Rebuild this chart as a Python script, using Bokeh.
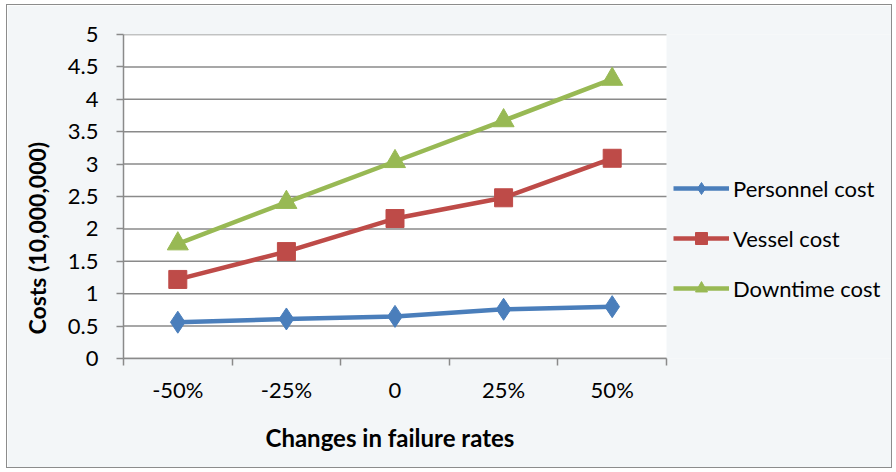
import numpy as np
from bokeh.plotting import figure
from bokeh.models import FixedTicker, Legend, LegendItem, Title, Range1d
from bokeh.embed import file_html
from bokeh.resources import INLINE

categories = ["-50%", "-25%", "0", "25%", "50%"]
personnel = [0.56, 0.61, 0.65, 0.76, 0.80]
vessel = [1.22, 1.65, 2.16, 2.48, 3.09]
downtime = [1.77, 2.41, 3.04, 3.67, 4.31]
y_ticks = [0, 0.5, 1, 1.5, 2, 2.5, 3, 3.5, 4, 4.5, 5]
y_tick_labels = ["0", "0.5", "1", "1.5", "2", "2.5", "3", "3.5", "4", "4.5", "5"]
series_names = ["Personnel cost", "Vessel cost", "Downtime cost"]

FONT = "Lato"
BG = "#f3f6f8"
GRID = "#8a8a8a"
n = len(categories)
x = list(range(1, n + 1))
x_lo, x_hi = 0.5, n + 0.5
y_lo, y_hi = y_ticks[0], y_ticks[-1]

W, H = 886, 464
LEFT, TOP, BOTTOM = 116, 29, 111
PLOT_W = 543  # pixel width of the category area
frame_w = W - LEFT
x_end = x_lo + (x_hi - x_lo) * frame_w / PLOT_W

p = figure(width=W, height=H, output_backend="svg", toolbar_location=None,
           x_range=Range1d(x_lo, x_end), y_range=Range1d(y_lo, y_hi))
p.min_border_left = LEFT
p.min_border_right = 0
p.min_border_top = TOP
p.min_border_bottom = BOTTOM
p.border_fill_color = BG
p.background_fill_color = BG
p.outline_line_color = None
p.xgrid.visible = False
p.ygrid.visible = False

# plot area and horizontal gridlines
p.quad(left=[x_lo], right=[x_hi], bottom=[y_lo], top=[y_hi],
       fill_color="white", line_color=None)
p.segment(x0=[x_lo] * len(y_ticks), x1=[x_hi] * len(y_ticks), y0=y_ticks, y1=y_ticks,
          line_color=GRID, line_width=1.5)

# y axis
p.yaxis.ticker = FixedTicker(ticks=y_ticks)
p.yaxis.major_label_overrides = {t: l for t, l in zip(y_ticks, y_tick_labels)}
p.yaxis.major_label_text_font = FONT
p.yaxis.major_label_text_font_size = "22px"
p.yaxis.major_label_text_color = "black"
p.yaxis.axis_line_color = GRID
p.yaxis.axis_line_width = 1.5
p.yaxis.major_tick_line_color = GRID
p.yaxis.major_tick_line_width = 1.5
p.yaxis.major_tick_out = 7
p.yaxis.major_tick_in = 0
p.yaxis.minor_tick_line_color = None
p.yaxis.major_label_standoff = 18

# x axis
bounds = [i + 0.5 for i in range(0, n + 1)]
p.xaxis.bounds = (x_lo, x_hi)
p.xaxis.ticker = FixedTicker(ticks=x, minor_ticks=bounds)
p.xaxis.major_label_overrides = {xi: c for xi, c in zip(x, categories)}
p.xaxis.major_label_text_font = FONT
p.xaxis.major_label_text_font_size = "22px"
p.xaxis.major_label_text_color = "black"
p.xaxis.axis_line_color = GRID
p.xaxis.axis_line_width = 1.5
p.xaxis.major_tick_line_color = None
p.xaxis.major_tick_out = 0
p.xaxis.major_tick_in = 0
p.xaxis.minor_tick_line_color = GRID
p.xaxis.minor_tick_line_width = 1.5
p.xaxis.minor_tick_out = 7
p.xaxis.minor_tick_in = 0
p.xaxis.major_label_standoff = 10

# axis titles
xtitle = Title(text="Changes in failure rates", align="left", offset=142, standoff=30,
               text_font=FONT, text_font_style="bold", text_font_size="24px",
               text_color="black")
p.add_layout(xtitle, "below")
ytitle = Title(text="Costs (10,000,000)", align="left", offset=24, standoff=27,
               text_font=FONT, text_font_style="bold", text_font_size="23px",
               text_color="black")
p.add_layout(ytitle, "left")

colors = ["#4a7ebb", "#be4b48", "#98b954"]
lw = 4.5
r1l = p.line(x, personnel, line_color=colors[0], line_width=lw)
r1m = p.scatter(x, personnel, marker="diamond", size=22,
                fill_color=colors[0], line_color=colors[0])
r2l = p.line(x, vessel, line_color=colors[1], line_width=lw)
r2m = p.scatter(x, vessel, marker="square", size=18,
                fill_color=colors[1], line_color=colors[1])
r3l = p.line(x, downtime, line_color=colors[2], line_width=lw)
r3m = p.scatter(x, downtime, marker="triangle", size=21,
                fill_color=colors[2], line_color=colors[2])

legend = Legend(items=[
    LegendItem(label=series_names[0], renderers=[r1l, r1m]),
    LegendItem(label=series_names[1], renderers=[r2l, r2m]),
    LegendItem(label=series_names[2], renderers=[r3l, r3m]),
], location=(PLOT_W + 7, 55))
legend.glyph_width = 56
legend.glyph_height = 30
legend.label_height = 30
legend.spacing = 20
legend.padding = 0
legend.margin = 0
legend.label_standoff = 4
legend.label_text_font = FONT
legend.label_text_font_size = "22px"
legend.label_text_color = "black"
legend.border_line_color = None
legend.background_fill_alpha = 0
p.add_layout(legend)

p.styles = {"border": "1.5px solid #8c8c8c", "box-sizing": "border-box",
            "margin-left": "6px", "margin-top": "4px"}

open("out.html", "w").write(file_html(p, INLINE))
